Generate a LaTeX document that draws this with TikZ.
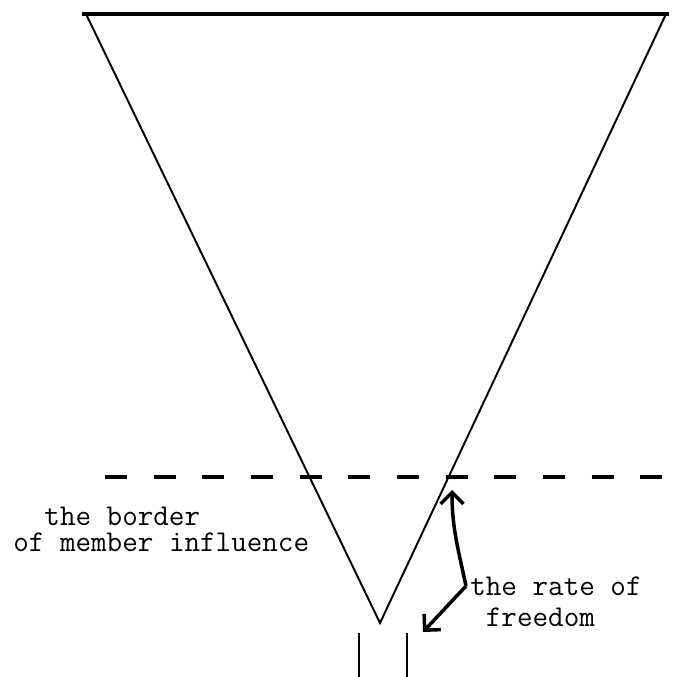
\documentclass[tikz,border=0pt]{standalone}
\usepackage{tikz}
\usetikzlibrary{arrows.meta, positioning, calc}

\begin{document}
\begin{tikzpicture}[
  lbl/.style={font=\ttfamily\fontsize{17.2}{15}\selectfont, inner sep=0pt, align=left, anchor=base west},
  pointer/.style={line width=2pt, -{Straight Barb[length=2.3mm,width=4.6mm]}}
]
  \useasboundingbox (0,0) rectangle (13.54,13.54);
  % funnel
  \coordinate (tl) at (1.72,13.26);
  \coordinate (tr) at (13.32,13.26);
  \coordinate (apex) at (7.6,1.08);
  \draw[line width=1.8pt] (1.64,13.26) -- (13.38,13.26);
  \draw[line width=1.1pt] (tl) -- (apex) -- (tr);
  % border of influence
  \draw[line width=2.5pt, dash pattern=on 0.44cm off 0.533cm] (2.1,4) -- (13.24,4);
  % outlet
  \draw[line width=1.6pt] (7.18,0.88) -- (7.18,0);
  \draw[line width=1.6pt] (8.14,0.88) -- (8.14,0);
  % labels
  \node[lbl] (border) at (0.26,2.5) {\phantom{xx}the border\\of member influence};
  \node[lbl, font=\ttfamily\fontsize{17.2}{18.1}\selectfont] (rate) at (9.4,1.0) {the rate of\\\phantom{x}freedom};
  \coordinate (fork) at (9.32,1.82);
  \coordinate (tipa) at (9.04,3.74);
  \coordinate (tipb) at (8.46,0.9);
  \draw[pointer] (fork) to[out=102,in=-90] (tipa);
  \draw[pointer] (fork) -- (tipb);
\end{tikzpicture}
\end{document}
